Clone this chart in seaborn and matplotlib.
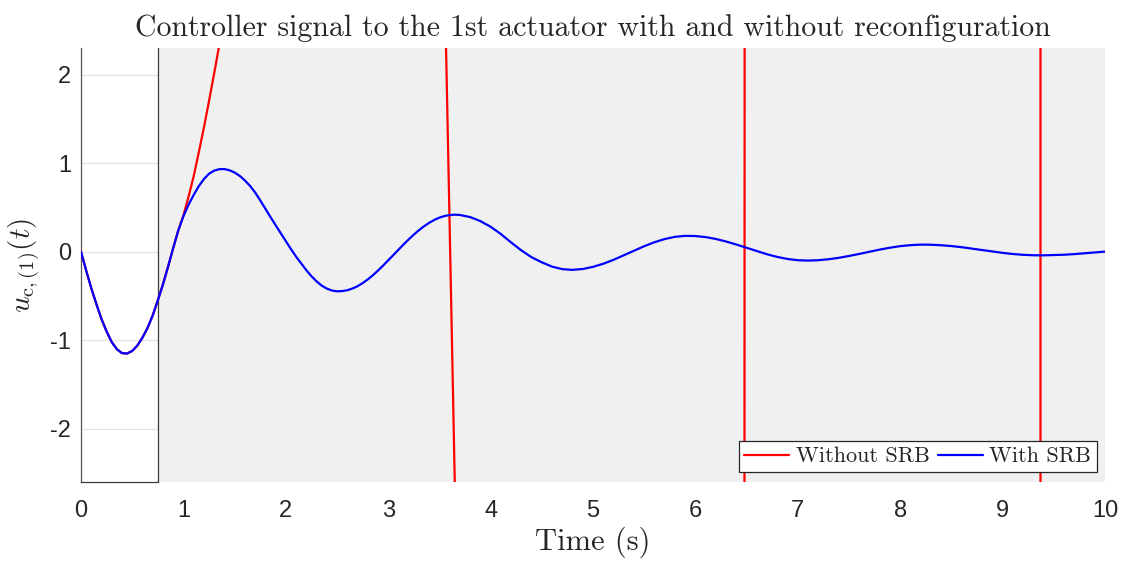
import matplotlib
matplotlib.use("Agg")
import matplotlib.pyplot as plt
import seaborn as sns
import pandas as pd

# Time axis (s) and controller signal with the self-reconfiguration block (SRB)
t_with = [0.00, 0.05, 0.10, 0.15, 0.20, 0.25, 0.30, 0.35, 0.40, 0.45,
          0.50, 0.55, 0.60, 0.65, 0.70, 0.75, 0.80, 0.85, 0.90, 0.95,
          1.00, 1.05, 1.10, 1.15, 1.20, 1.25, 1.30, 1.35, 1.40, 1.45,
          1.50, 1.55, 1.60, 1.65, 1.70, 1.75, 1.80, 1.85, 1.90, 1.95,
          2.00, 2.05, 2.10, 2.15, 2.20, 2.25, 2.30, 2.35, 2.40, 2.45,
          2.50, 2.55, 2.60, 2.65, 2.70, 2.75, 2.80, 2.85, 2.90, 2.95,
          3.00, 3.05, 3.10, 3.15, 3.20, 3.25, 3.30, 3.35, 3.40, 3.45,
          3.50, 3.55, 3.60, 3.65, 3.7, 3.8, 3.9,
          4.0, 4.1, 4.2, 4.3, 4.4, 4.5, 4.6, 4.7, 4.8, 4.9,
          5.0, 5.1, 5.2, 5.3, 5.4, 5.5, 5.6, 5.7, 5.8, 5.9,
          6.0, 6.1, 6.2, 6.3, 6.4, 6.5, 6.6, 6.7, 6.8, 6.9,
          7.0, 7.1, 7.2, 7.3, 7.4, 7.5, 7.6, 7.7, 7.8, 7.9,
          8.0, 8.1, 8.2, 8.3, 8.4, 8.5, 8.6, 8.7, 8.8, 8.9,
          9.0, 9.1, 9.2, 9.3, 9.4, 9.5, 9.6, 9.7, 9.8, 9.9, 10.0]
u_with = [0.00, -0.21, -0.41, -0.59, -0.76, -0.90, -1.02, -1.10, -1.145, -1.15,
          -1.12, -1.06, -0.97, -0.86, -0.72, -0.55, -0.37, -0.17, 0.04, 0.24,
          0.40, 0.53, 0.64, 0.74, 0.82, 0.88, 0.915, 0.932, 0.933, 0.920,
          0.894, 0.856, 0.805, 0.744, 0.670, 0.580, 0.485, 0.392, 0.300, 0.210,
          0.120, 0.030, -0.055, -0.132, -0.208, -0.276, -0.334, -0.382, -0.416, -0.438,
          -0.447, -0.445, -0.435, -0.416, -0.390, -0.355, -0.313, -0.266, -0.213, -0.157,
          -0.098, -0.038, 0.022, 0.082, 0.139, 0.193, 0.243, 0.287, 0.326, 0.359,
          0.385, 0.403, 0.414, 0.418, 0.415, 0.391, 0.346,
          0.282, 0.200, 0.105, 0.015, -0.062, -0.120, -0.168, -0.197, -0.205, -0.195,
          -0.171, -0.136, -0.092, -0.041, 0.011, 0.062, 0.107, 0.143, 0.168, 0.179,
          0.177, 0.165, 0.144, 0.115, 0.081, 0.044, 0.006, -0.029, -0.059, -0.082,
          -0.096, -0.100, -0.096, -0.085, -0.069, -0.048, -0.025, 0.000, 0.024, 0.045,
          0.063, 0.074, 0.080, 0.079, 0.073, 0.064, 0.051, 0.035, 0.019, 0.002,
          -0.013, -0.026, -0.035, -0.040, -0.041, -0.038, -0.034, -0.027, -0.018, -0.009, 0.001]

# Without the SRB the signal follows the same path until ~0.95 s, then diverges
t_without_tail = [1.00, 1.05, 1.10, 1.15, 1.20, 1.25, 1.30, 1.35, 1.40, 1.5, 1.6,
                  1.8, 2.0, 2.2, 2.4, 2.6, 2.8, 3.0, 3.2, 3.4, 3.5, 3.6, 3.7,
                  3.8, 4.0, 4.5, 5.0, 5.5, 6.0, 6.3, 6.4, 6.48, 6.56,
                  7.0, 7.5, 8.0, 8.5, 9.0, 9.3, 9.37, 9.44, 9.6, 10.0]
u_without_tail = [0.41, 0.62, 0.85, 1.12, 1.40, 1.70, 2.01, 2.33, 2.66, 3.4, 4.3,
                  7.5, 12.0, 17.0, 20.0, 21.0, 19.5, 16.5, 13.0, 9.5, 6.0, 0.3, -5.5,
                  -11.0, -25.0, -200.0, -900.0, -1600.0, -1500.0, -700.0, -250.0, 0.0, 300.0,
                  5000.0, 20000.0, 30000.0, 25000.0, 12000.0, 3000.0, 0.0, -3000.0, -15000.0, -40000.0]

y_ticks = [-2, -1, 0, 1, 2]
x_ticks = list(range(0, 11))
switch_time = 0.75

title_text = "Controller signal to the 1st actuator with and without reconfiguration"
x_label = "Time (s)"
y_label = r"$u_{\mathrm{c},(1)}(t)$"
series_names = ["Without SRB", "With SRB"]

n_shared = sum(1 for t in t_with if t < 1.0)
t_without = t_with[:n_shared] + t_without_tail
u_without = u_with[:n_shared] + u_without_tail

df_without = pd.DataFrame({"t": t_without, "u": u_without})
df_with = pd.DataFrame({"t": t_with, "u": u_with})

sns.set_style("white")
plt.rcParams["mathtext.fontset"] = "cm"
plt.rcParams["axes.unicode_minus"] = False
plt.rcParams["font.family"] = ["Liberation Sans", "DejaVu Sans"]

fig = plt.figure(figsize=(11.26, 5.61), dpi=100)
ax = fig.add_axes([81 / 1126, 1 - 482 / 561, 1024 / 1126, 434 / 561])

ax.set_xlim(0, 10)
ax.set_ylim(-2.6, 2.3)

# light horizontal grid, covered by the shaded region after the switch
for yt in y_ticks:
    ax.axhline(yt, color="#e3e3e3", lw=0.9, zorder=0.5)
ax.axvspan(switch_time, 10, color="#f0f0f0", lw=0, zorder=1)

sns.lineplot(data=df_without, x="t", y="u", ax=ax, color="#ff0000", lw=1.6,
             estimator=None, sort=False, label=series_names[0], zorder=3)
sns.lineplot(data=df_with, x="t", y="u", ax=ax, color="#0000ff", lw=1.6,
             estimator=None, sort=False, label=series_names[1], zorder=4)

ax.axvline(switch_time, color="#3a3a3a", lw=0.9, zorder=2)

for side in ["top", "right"]:
    ax.spines[side].set_visible(False)
ax.spines["left"].set_color("#555555")
ax.spines["left"].set_linewidth(0.9)
ax.spines["bottom"].set_color("#3a3a3a")
ax.spines["bottom"].set_linewidth(0.9)
ax.spines["bottom"].set_bounds(0, switch_time)

ax.set_xticks(x_ticks)
ax.set_yticks(y_ticks)
ax.set_xticklabels([str(v) for v in x_ticks])
ax.set_yticklabels([str(v) for v in y_ticks])
ax.tick_params(axis="y", direction="in", length=7, width=0.9, color="#3a3a3a",
               labelsize=17, labelcolor="#262626", pad=7)
ax.tick_params(axis="x", length=0, labelsize=17, labelcolor="#262626", pad=13)

ax.set_title(title_text, family="cmr10", fontsize=21.5, pad=9)
ax.set_xlabel(x_label, family="cmr10", fontsize=22, labelpad=3)
ax.set_ylabel(y_label, fontsize=21)
ax.yaxis.set_label_coords(-0.037, 0.5)

leg = ax.legend(loc="lower right", ncol=2, bbox_to_anchor=(0.992, 0.023),
                prop={"family": "cmr10", "size": 16}, frameon=True, fancybox=False,
                handlelength=2.0, handletextpad=0.3, columnspacing=0.4,
                borderpad=0.25, borderaxespad=0)
leg.get_frame().set_edgecolor("#262626")
leg.get_frame().set_linewidth(0.9)
leg.get_frame().set_alpha(1)
for h in leg.get_lines():
    h.set_linewidth(1.6)

fig.savefig("out.png", dpi=100, facecolor="white")
